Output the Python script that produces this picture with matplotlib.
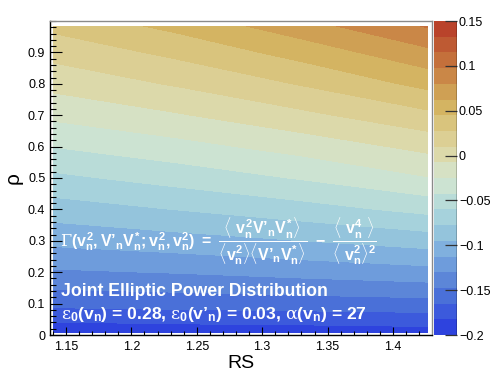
import numpy as np
import matplotlib
matplotlib.use("Agg")
import matplotlib.pyplot as plt
from matplotlib.ticker import MultipleLocator, FixedLocator, FixedFormatter

# ---------------- data ----------------
rs = [1.1405, 1.2358, 1.3312, 1.4265]
rho = [0.008, 0.1, 0.2, 0.3, 0.4, 0.5, 0.6, 0.7, 0.8, 0.9, 0.984]
gamma_rs_1 = [-0.195, -0.160, -0.1325, -0.108, -0.086, -0.064, -0.042, -0.021, -0.002, 0.016, 0.032]
gamma_rs_2 = [-0.193, -0.158, -0.129, -0.102, -0.077, -0.053, -0.031, -0.009, 0.012, 0.032, 0.050]
gamma_rs_3 = [-0.192, -0.156, -0.124, -0.095, -0.067, -0.041, -0.018, 0.006, 0.029, 0.052, 0.073]
gamma_rs_4 = [-0.190, -0.154, -0.119, -0.087, -0.055, -0.026, -0.0025, 0.023, 0.050, 0.0756, 0.099]

levels = [-0.2, -0.1825, -0.165, -0.1475, -0.13, -0.1125, -0.095, -0.0775, -0.06, -0.0425,
          -0.025, -0.0075, 0.01, 0.0275, 0.045, 0.0625, 0.08, 0.0975, 0.115, 0.1325, 0.15]
cbar_ticks = [-0.2, -0.15, -0.1, -0.05, 0, 0.05, 0.1, 0.15]
cbar_labels = ["\u22120.2", "\u22120.15", "\u22120.1", "\u22120.05", "0", "0.05", "0.1", "0.15"]
x_ticks = [1.15, 1.2, 1.25, 1.3, 1.35, 1.4]
x_labels = ["1.15", "1.2", "1.25", "1.3", "1.35", "1.4"]
y_ticks = [0, 0.1, 0.2, 0.3, 0.4, 0.5, 0.6, 0.7, 0.8, 0.9]
y_labels = ["0", "0.1", "0.2", "0.3", "0.4", "0.5", "0.6", "0.7", "0.8", "0.9"]

# band colours, bottom to top
band_colors = ['#2e43de', '#3c5adc', '#4a70d8', '#5c86d8', '#6e9cdc', '#80b0de', '#94c4dc',
               '#a6d2dc', '#b9dcd8', '#cce3d2', '#d6e1c4', '#dcd9aa', '#dccf94', '#d9c47d',
               '#d4b462', '#cfa054', '#ca8747', '#c4703b', '#be5a33', '#b9432b']

# ---------------- style ----------------
plt.rcParams['font.family'] = ['Liberation Sans', 'DejaVu Sans']
plt.rcParams['mathtext.fontset'] = 'custom'
plt.rcParams['mathtext.rm'] = 'Liberation Sans:bold'
plt.rcParams['mathtext.it'] = 'Liberation Sans:bold'
plt.rcParams['mathtext.bf'] = 'Liberation Sans:bold'
plt.rcParams['mathtext.sf'] = 'DejaVu Serif'

W, H = 491, 374
fig = plt.figure(figsize=(W / 100, H / 100), dpi=100)

def fx(px):
    return px / W

def fy(py):
    return 1 - py / H

ax_l, ax_r, ax_t, ax_b = 49.5, 431.7, 21, 335
ax = fig.add_axes([fx(ax_l), fy(ax_b), fx(ax_r - ax_l), fy(ax_t) - fy(ax_b)])
cax = fig.add_axes([fx(434.3), fy(ax_b), fx(22.6), fy(ax_t) - fy(ax_b)])

Z = np.array([gamma_rs_1, gamma_rs_2, gamma_rs_3, gamma_rs_4]).T
cs = ax.contourf(rs, rho, Z, levels=levels, colors=band_colors)

ax.set_xlim(1.1374, 1.4296)
ax.set_ylim(0, 1.0)

ax.xaxis.set_major_locator(FixedLocator(x_ticks))
ax.xaxis.set_major_formatter(FixedFormatter(x_labels))
ax.xaxis.set_minor_locator(MultipleLocator(0.01))
ax.yaxis.set_major_locator(FixedLocator(y_ticks))
ax.yaxis.set_major_formatter(FixedFormatter(y_labels))
ax.yaxis.set_minor_locator(MultipleLocator(0.02))

ax.tick_params(axis='x', which='major', direction='in', length=5.8, width=0.8, labelsize=9, pad=4)
ax.tick_params(axis='x', which='minor', direction='in', length=2.9, width=0.8)
ax.tick_params(axis='y', which='major', direction='in', length=8.6, width=0.8, labelsize=9, pad=3)
ax.tick_params(axis='y', which='minor', direction='in', length=4.3, width=0.8)
ax.tick_params(top=False, right=False, which='both')

for s in ['top', 'right']:
    ax.spines[s].set_color('#8a8a8a')
    ax.spines[s].set_linewidth(1.0)
for s in ['left', 'bottom']:
    ax.spines[s].set_color('black')
    ax.spines[s].set_linewidth(1.0)

# colour bar
cb = fig.colorbar(cs, cax=cax)
cb.outline.set_visible(False)
cax.set_yticks(cbar_ticks)
cax.set_yticklabels(cbar_labels)
cax.yaxis.set_minor_locator(FixedLocator([]))
cax.tick_params(axis='y', direction='in', length=8.6, width=0.9, labelsize=9, pad=1.5,
                colors='#333333', labelcolor='black')
cax.axvline(cax.get_xlim()[1], color='black', lw=1.0)

# axis titles
fig.text(fx(241), fy(368.5), "RS", fontsize=14, ha='center', va='baseline')
fig.text(fx(13), fy(178), "\u03c1", fontsize=15, rotation=90, ha='center', va='center')

# white annotations
fig.text(fx(60), fy(246.5),
         r"$\mathsf{\Gamma}(v^{2}_{n},V’_{n}V^{*}_{n};v^{2}_{n},v^{2}_{n})\ =\ "
         r"\dfrac{\langle\ v^{2}_{n}V’_{n}V^{*}_{n}\rangle}{\langle v^{2}_{n}\rangle\langle V’_{n}V^{*}_{n}\rangle}"
         r"\ -\ \dfrac{\langle\ v^{4}_{n}\ \rangle}{\langle\ v^{2}_{n}\rangle^{2}}$",
         fontsize=11.5, color='white', ha='left', va='baseline')
fig.text(fx(61.5), fy(296.5), "Joint Elliptic Power Distribution", fontsize=12.7,
         fontweight='bold', color='white', ha='left', va='baseline')
fig.text(fx(61), fy(319),
         r"$\mathsf{\varepsilon}_{0}(v_{n})$ = 0.28, $\mathsf{\varepsilon}_{0}(v’_{n})$ = 0.03, "
         r"$\mathsf{\alpha}(v_{n})$ = 27",
         fontsize=12.6, fontweight='bold', color='white', ha='left', va='baseline')

fig.savefig("out.png", dpi=100)
